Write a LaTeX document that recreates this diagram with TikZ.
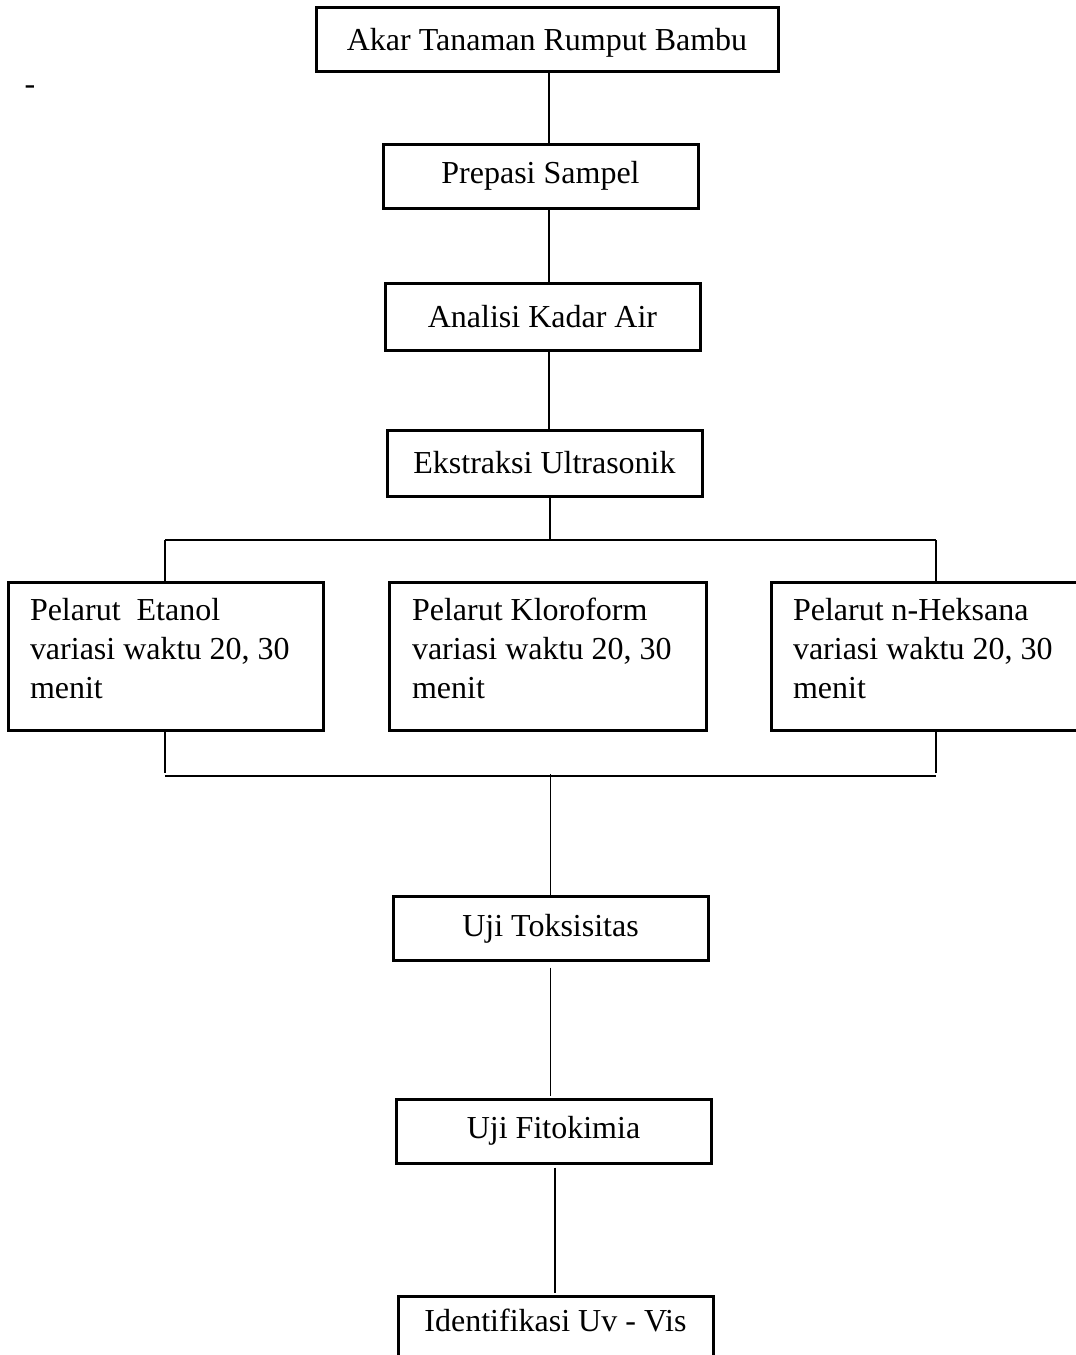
\documentclass[tikz,border=0pt]{standalone}
\usepackage{fontspec}
\setmainfont{Liberation Serif}

\begin{document}
\begin{tikzpicture}[x=1pt, y=-1pt, font=\fontsize{32}{39}\selectfont,
  box/.style={draw, line width=3pt, minimum width=315, minimum height=64, inner sep=0pt},
  tallbox/.style={box, minimum height=148, text width=271, align=flush left, text depth=94pt},
  link/.style={line width=1.3pt}]
  \path[use as bounding box, clip] (0,0) rectangle (1076,1355);
  \node (dash) at (30,90) {-};
  % alur utama
  \node[box, minimum width=462, text height=30pt] (akar) at (547,39) {Akar Tanaman Rumput Bambu};
  \node[box] (prep) at (540.5,176) {Prepasi Sampel};
  \node[box, minimum height=67] (anal) at (542.5,316.5) {Analisi Kadar Air};
  \node[box, minimum height=66] (ekst) at (544.5,463) {Ekstraksi Ultrasonik};
  \node[tallbox] (etanol) at (165.5,656) {Pelarut\ \ Etanol\\variasi waktu 20, 30\\menit};
  \node[tallbox, minimum width=317] (klor) at (547.5,656) {Pelarut Kloroform\\variasi waktu 20, 30\\menit};
  \node[tallbox] (heks) at (928.5,656) {Pelarut n-Heksana\\variasi waktu 20, 30\\menit};
  \node[box] (toks) at (550.5,928.5) {Uji Toksisitas};
  \node[box] (fito) at (553.5,1131) {Uji Fitokimia};
  \node[box, text depth=16pt] (iden) at (555.5,1328) {Identifikasi Uv - Vis};
  % garis penghubung
  \coordinate (spine) at (549,0);
  \coordinate (fork) at (550,540); \coordinate (forkL) at (165,540); \coordinate (forkR) at (936,540);
  \coordinate (joinL) at (165,776); \coordinate (joinR) at (936,776);
  \draw[link] (akar.south -| spine) -- (prep.north -| spine);
  \draw[link] (prep.south -| spine) -- (anal.north -| spine);
  \draw[link] (anal.south -| spine) -- (ekst.north -| spine);
  \draw[link] (fork |- ekst.south) -- (fork);
  \draw[link] (forkL) -- (forkR);
  \draw[link] (forkL) -- (forkL |- etanol.north);
  \draw[link] (forkR) -- (forkR |- heks.north);
  \draw[link] (joinL |- etanol.south) -- ([yshift=3pt]joinL);
  \draw[link] (joinR |- heks.south) -- ([yshift=3pt]joinR);
  \draw[link] (joinL) -- (joinR);
  \draw[link] ([yshift=2pt]joinL -| toks.north) -- (toks.north);
  \draw[link] ([yshift=-5.5pt]toks.south) -- ([yshift=2pt]toks.south |- fito.north);
  \draw[link] ([xshift=1.5pt, yshift=-3pt]fito.south) -- ([xshift=1.5pt, yshift=1.5pt]fito.south |- iden.north);
\end{tikzpicture}
\end{document}
